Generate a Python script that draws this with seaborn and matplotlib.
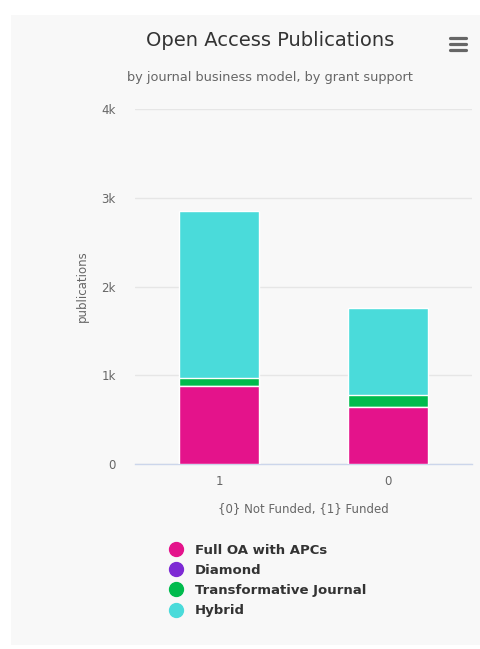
import matplotlib
matplotlib.use("Agg")
import matplotlib.pyplot as plt
import seaborn as sns
import pandas as pd
import numpy as np
from matplotlib.lines import Line2D
from matplotlib.patches import Rectangle

categories = ["1", "0"]
series_names = ["Full OA with APCs", "Diamond", "Transformative Journal", "Hybrid"]
full_oa = [882, 646]
diamond = [0, 0]
transformative = [90, 135]
hybrid = [1882, 977]
colors = ["#e4138b", "#7d2ad4", "#00bb4d", "#4adbda"]
y_ticks = [0, 1000, 2000, 3000, 4000]
y_tick_labels = ["0", "1k", "2k", "3k", "4k"]

sns.set_theme(style="white")
plt.rcParams["font.family"] = ["DejaVu Sans"]

W, H = 480, 649
fig = plt.figure(figsize=(W / 100, H / 100), dpi=100)
fig.patch.set_facecolor("white")
# gray panel
fig.add_artist(Rectangle((11 / W, 4 / H), (W - 11) / W, (634 - 4) / H,
                         transform=fig.transFigure, facecolor="#f8f8f8",
                         edgecolor="none", zorder=0))

ax = fig.add_axes([135 / W, (H - 464) / H, (472 - 135) / W, (464 - 109) / H])
ax.set_facecolor("none")

series = [full_oa, diamond, transformative, hybrid]
cum = np.cumsum(np.array(series), axis=0)
for i in range(len(series) - 1, -1, -1):
    df = pd.DataFrame({"cat": categories, "val": cum[i]})
    sns.barplot(data=df, x="cat", y="val", order=categories, color=colors[i],
                width=0.475, saturation=1, edgecolor="white", linewidth=1,
                ax=ax, zorder=3)

ax.set_ylim(0, 4000)
ax.set_xlim(-0.5, 1.5)
ax.set_yticks(y_ticks)
ax.set_yticklabels(y_tick_labels)
ax.yaxis.grid(True, color="#e6e6e6", linewidth=1)
ax.set_axisbelow(True)
for s in ["top", "right", "left"]:
    ax.spines[s].set_visible(False)
ax.spines["bottom"].set_color("#ccd6eb")
ax.spines["bottom"].set_linewidth(1)
ax.tick_params(axis="y", length=0, pad=14, labelsize=8.5, labelcolor="#666666")
ax.tick_params(axis="x", length=0, pad=8, labelsize=8.5, labelcolor="#666666")
ax.set_xlabel("{0} Not Funded, {1} Funded", fontsize=8.5, color="#666666", labelpad=10)
ax.set_ylabel("publications", fontsize=8.5, color="#666666", labelpad=9)

fig.text(270 / W, 1 - 40 / H, "Open Access Publications", ha="center", va="center",
         fontsize=14, color="#333333")
fig.text(270 / W, 1 - 78 / H, "by journal business model, by grant support", ha="center",
         va="center", fontsize=9.3, color="#666666")
# menu icon
for dy in (-6, 0, 6):
    fig.add_artist(Line2D([450 / W, 466 / W], [(H - 44 - dy) / H] * 2, transform=fig.transFigure,
                          color="#666666", linewidth=2.3, solid_capstyle="round"))

handles = [Line2D([0], [0], marker="o", linestyle="none", markersize=10,
                  markerfacecolor=c, markeredgecolor=c) for c in colors]
leg = fig.legend(handles, series_names, loc="upper left",
                 bbox_to_anchor=(161 / W, 1 - 537 / H), frameon=False,
                 prop={"weight": "bold", "size": 9.5}, labelspacing=0.55,
                 handletextpad=0.85, handlelength=1.2, borderpad=0)
for t in leg.get_texts():
    t.set_color("#333333")

fig.savefig("out.png", dpi=100)
